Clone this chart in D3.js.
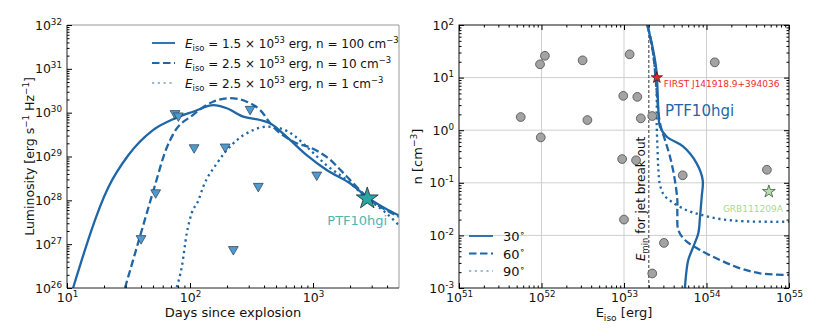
<!DOCTYPE html>
<html>
<head>
<meta charset="utf-8">
<script src="https://cdn.jsdelivr.net/npm/d3@7"></script>
<style>
  body { margin: 0; background: #fff; }
  text { font-family: "DejaVu Sans", sans-serif; }
</style>
</head>
<body>
<svg id="chart" width="831" height="330"></svg>
<script>
// ---- left panel: light curves ----
const daysSolid = [11.2, 21.7, 31.5, 50, 75.5, 106, 155, 199, 271, 371, 447, 611, 889, 1291, 2000, 2735, 3845, 5000];
const lumSolid = [1e26, 2.0e28, 1.07e29, 4.0e29, 7.4e29, 1.05e30, 1.48e30, 1.26e30, 8.1e29, 6.8e29, 5.75e29, 2.8e29, 1.07e29, 4.9e28, 2.45e28, 1.2e28, 6.6e27, 4.5e27];

const daysDashed = [29.6, 39.2, 51.9, 62.7, 72.8, 106, 154, 211, 289, 371, 473, 688, 1000, 1290, 1880, 2735, 5000];
const lumDashed = [1e26, 1.5e27, 2.2e28, 1.26e29, 3.2e29, 8.9e29, 1.78e30, 2.14e30, 1.78e30, 1.15e30, 4.8e29, 2.2e29, 1.5e29, 9.8e28, 3.5e28, 1.2e28, 4.2e27];

const daysDotted = [78, 85.7, 94, 103, 117, 128, 165, 225, 327, 420, 540, 692, 889, 1291, 1880, 2735, 3845, 5000];
const lumDotted = [1.05e26, 3.0e26, 1.74e27, 5.0e27, 1e28, 2.04e28, 6.9e28, 2.0e29, 4.0e29, 4.8e29, 4.4e29, 3.1e29, 1.66e29, 6.3e28, 2.9e28, 1.12e28, 5.4e27, 2.7e27];

const limitDays = [75.5, 80.4, 40, 52.6, 108, 193, 308, 359, 225, 1072];
const limitLum = [9.6e29, 8.5e29, 1.35e27, 1.5e28, 1.6e29, 1.66e29, 1.2e30, 2.1e28, 7.6e26, 3.8e28];

const ptfDays = 2760, ptfLum = 1.1e28;

const lumTicks = [1e26, 1e27, 1e28, 1e29, 1e30, 1e31, 1e32];
const dayTicks = [10, 100, 1000];

// ---- right panel: E_iso vs n ----
const grbE = [1.1e52, 9.6e51, 3.15e52, 1.17e53, 1.26e54, 9.8e52, 1.45e53, 5.6e51, 3.6e52, 1.6e53, 2.2e53, 9.8e51, 9.5e52, 1.4e53, 5.4e54, 5.15e53, 1e53, 3.05e53, 2.2e53];
const grbN = [26, 17.9, 21.3, 27.7, 19.5, 4.5, 4.3, 1.78, 1.56, 1.68, 1.86, 0.73, 0.283, 0.268, 0.177, 0.139, 0.02, 0.0072, 0.00189];

const e30 = [1.91e53, 2.17e53, 2.44e53, 2.54e53, 2.61e53, 2.73e53, 3.30e53, 5.24e53, 7.60e53, 8.99e53, 8.75e53, 8.34e53, 7.96e53, 6.92e53, 6.01e53, 5.65e53, 5.48e53];
const n30 = [100, 44.9, 16.1, 6.71, 2.42, 1.17, 0.75, 0.485, 0.234, 0.113, 0.0545, 0.0226, 0.011, 0.0061, 0.0034, 0.00177, 0.001];

const e60 = [1.93e53, 2.25e53, 2.48e53, 2.73e53, 3.14e53, 3.61e53, 4.07e53, 4.43e53, 4.43e53, 4.55e53, 5.48e53, 8.34e53, 1.46e54, 2.55e54, 4.45e54, 1e55];
const n60 = [100, 29.4, 5.81, 1.35, 0.652, 0.313, 0.131, 0.0471, 0.0263, 0.0127, 0.00818, 0.00527, 0.0034, 0.00237, 0.0019, 0.00177];

const e90 = [1.93e53, 2.25e53, 2.48e53, 2.49e53, 2.55e53, 2.61e53, 2.73e53, 3.05e53, 3.82e53, 5.65e53, 8.34e53, 1.46e54, 2.93e54, 1e55];
const n90 = [100, 29.4, 5.81, 1.35, 0.421, 0.175, 0.0908, 0.0586, 0.0432, 0.0304, 0.0249, 0.0205, 0.0185, 0.0182];

const firstE = 2.5e53, firstN = 10;
const grb111209E = 5.7e54, grb111209N = 0.068;
const eMinJet = 2e53;

const eTicks = [1e51, 1e52, 1e53, 1e54, 1e55];
const nTicks = [1e-3, 1e-2, 1e-1, 1, 10, 100];

const blue = "#1f66a6";
const svg = d3.select("#chart");

function addRich(text, parts, size) {
  let shift = 0;
  parts.forEach(([t, s]) => {
    const ts = text.append("tspan").text(t);
    const target = s === "sup" ? -0.4 * size : s === "sub" ? 0.28 * size : 0;
    if (target !== shift) { ts.attr("dy", target - shift); shift = target; }
    if (s === "sup" || s === "sub") ts.attr("font-size", size * 0.7);
    if (s === "i") ts.attr("font-style", "italic");
  });
}

function minorTicks(domain) {
  const out = [];
  const lo = Math.floor(Math.log10(domain[0])), hi = Math.ceil(Math.log10(domain[1]));
  for (let d = lo; d < hi; d++) {
    for (let k = 2; k <= 9; k++) {
      const v = k * Math.pow(10, d);
      if (v > domain[0] && v < domain[1]) out.push(v);
    }
  }
  return out;
}

function powLabels(g, size) {
  g.selectAll(".tick text").each(function (d) {
    const t = d3.select(this);
    t.text("");
    addRich(t, [["10", ""], [String(Math.round(Math.log10(d))), "sup"]], size);
  });
}

function drawAxis(g, axisFn, scale, ticks, labels) {
  const major = axisFn(scale).tickValues(ticks).tickSize(-5).tickSizeOuter(0).tickPadding(5);
  if (!labels) major.tickFormat("");
  const gm = g.append("g").call(major);
  gm.selectAll("text").attr("font-size", 12.5).attr("fill", "#111").style("font-family", "DejaVu Sans");
  gm.select(".domain").remove();
  if (labels) powLabels(gm, 12.5);
  g.append("g")
    .call(axisFn(scale).tickValues(minorTicks(scale.domain())).tickSize(-2.5).tickSizeOuter(0).tickFormat(""))
    .select(".domain").remove();
  return gm;
}

// ================= LEFT PANEL =================
const L = { left: 67, right: 399, top: 25, bottom: 288 };
const xL = d3.scaleLog().domain([10, 5000]).range([L.left, L.right]);
const yL = d3.scaleLog().domain([1e26, 1e32]).range([L.bottom, L.top]);

svg.append("clipPath").attr("id", "clipL")
  .append("rect").attr("x", L.left).attr("y", L.top).attr("width", L.right - L.left).attr("height", L.bottom - L.top);

const left = svg.append("g");

const lineL = d3.line().x(d => xL(d[0])).y(d => yL(d[1])).curve(d3.curveMonotoneX);
const curvesL = [
  { days: daysSolid, lum: lumSolid, dash: null },
  { days: daysDashed, lum: lumDashed, dash: "7.5,3.5" },
  { days: daysDotted, lum: lumDotted, dash: "2.2,3.6" }
];
const curveG = left.append("g").attr("clip-path", "url(#clipL)");
curvesL.forEach(c => {
  curveG.append("path")
    .datum(d3.zip(c.days, c.lum))
    .attr("d", lineL)
    .attr("fill", "none")
    .attr("stroke", blue)
    .attr("stroke-width", 2.3)
    .attr("stroke-dasharray", c.dash);
});

const tri = d3.symbol().type(d3.symbolTriangle).size(42);
left.append("g").selectAll("path")
  .data(d3.zip(limitDays, limitLum))
  .join("path")
  .attr("d", tri)
  .attr("transform", d => `translate(${xL(d[0])},${yL(d[1])}) rotate(180)`)
  .attr("fill", "#4d9bd0")
  .attr("stroke", "#2b3a4a")
  .attr("stroke-width", 0.7);

left.append("path")
  .attr("d", d3.symbol().type(d3.symbolStar).size(150)())
  .attr("transform", `translate(${xL(ptfDays)},${yL(ptfLum)})`)
  .attr("fill", "#2aa5a2")
  .attr("stroke", "#1a2a2a")
  .attr("stroke-width", 0.8);

left.append("text")
  .attr("x", xL(ptfDays) - 10).attr("y", yL(ptfLum) + 26)
  .attr("text-anchor", "middle").attr("font-size", 13)
  .attr("fill", "#4db6b2")
  .text("PTF10hgi");

// frame
left.append("line").attr("x1", L.left).attr("x2", L.right).attr("y1", L.top).attr("y2", L.top).attr("stroke", "#999");
left.append("line").attr("x1", L.right).attr("x2", L.right).attr("y1", L.top).attr("y2", L.bottom).attr("stroke", "#999");
left.append("line").attr("x1", L.left).attr("x2", L.left).attr("y1", L.top).attr("y2", L.bottom).attr("stroke", "#222");
left.append("line").attr("x1", L.left).attr("x2", L.right).attr("y1", L.bottom).attr("y2", L.bottom).attr("stroke", "#222");

const axLy = left.append("g").attr("transform", `translate(${L.left},0)`);
drawAxis(axLy, d3.axisLeft, yL, lumTicks, true);
const axLx = left.append("g").attr("transform", `translate(0,${L.bottom})`);
drawAxis(axLx, d3.axisBottom, xL, dayTicks, true);

left.append("text")
  .attr("x", (L.left + L.right) / 2).attr("y", 317)
  .attr("text-anchor", "middle").attr("font-size", 13).attr("fill", "#111")
  .text("Days since explosion");

const ylab = left.append("text")
  .attr("transform", `translate(34,${(L.top + L.bottom) / 2}) rotate(-90)`)
  .attr("text-anchor", "middle").attr("font-size", 12.5).attr("fill", "#111");
addRich(ylab, [["Luminosity [erg s", ""], ["\u22121", "sup"], [" Hz", ""], ["\u22121", "sup"], ["]", ""]], 12.5);

// legend
const legL = [
  { dash: null, parts: [["E", "i"], ["iso", "sub"], [" = 1.5 \u00d7 10", ""], ["53", "sup"], [" erg, n = 100 cm", ""], ["\u22123", "sup"]] },
  { dash: "7.5,3.5", parts: [["E", "i"], ["iso", "sub"], [" = 2.5 \u00d7 10", ""], ["53", "sup"], [" erg, n = 10 cm", ""], ["\u22123", "sup"]] },
  { dash: "2.2,3.6", parts: [["E", "i"], ["iso", "sub"], [" = 2.5 \u00d7 10", ""], ["53", "sup"], [" erg, n = 1 cm", ""], ["\u22123", "sup"]] }
];
legL.forEach((l, i) => {
  const y = 43 + i * 20;
  left.append("line").attr("x1", 152).attr("x2", 175).attr("y1", y).attr("y2", y)
    .attr("stroke", blue).attr("stroke-width", i === 2 ? 1.6 : 1.8).attr("stroke-dasharray", l.dash)
    .attr("opacity", i === 2 ? 0.6 : 1);
  const t = left.append("text").attr("x", 185).attr("y", y + 5).attr("font-size", 12).attr("fill", "#111");
  addRich(t, l.parts, 12);
});

// ================= RIGHT PANEL =================
const R = { left: 459, right: 789, top: 25, bottom: 288 };
const xR = d3.scaleLog().domain([1e51, 1e55]).range([R.left, R.right]);
const yR = d3.scaleLog().domain([1e-3, 1e2]).range([R.bottom, R.top]);

svg.append("clipPath").attr("id", "clipR")
  .append("rect").attr("x", R.left).attr("y", R.top).attr("width", R.right - R.left).attr("height", R.bottom - R.top);

const right = svg.append("g");

// grid
right.append("g").selectAll("line").data(eTicks.slice(1, -1)).join("line")
  .attr("x1", d => xR(d)).attr("x2", d => xR(d)).attr("y1", R.top).attr("y2", R.bottom)
  .attr("stroke", "#cfcfcf").attr("stroke-width", 1);
right.append("g").selectAll("line").data(nTicks.slice(1, -1)).join("line")
  .attr("y1", d => yR(d)).attr("y2", d => yR(d)).attr("x1", R.left).attr("x2", R.right)
  .attr("stroke", "#cfcfcf").attr("stroke-width", 1);

// E_min line
right.append("line")
  .attr("x1", xR(eMinJet)).attr("x2", xR(eMinJet)).attr("y1", R.top).attr("y2", R.bottom)
  .attr("stroke", "#333").attr("stroke-width", 1).attr("stroke-dasharray", "3,2");
const emin = right.append("text")
  .attr("transform", `translate(${xR(eMinJet) - 4},261) rotate(-90)`)
  .attr("font-size", 12).attr("fill", "#111");
addRich(emin, [["E", "i"], ["min", "sub"], [" for jet break out", ""]], 12);

const lineR = d3.line().x(d => xR(d[0])).y(d => yR(d[1])).curve(d3.curveCatmullRom.alpha(0.5));
const curvesR = [
  { e: e90, n: n90, dash: "2.2,3.6" },
  { e: e60, n: n60, dash: "7.5,3.5" },
  { e: e30, n: n30, dash: null }
];
const curveR = right.append("g").attr("clip-path", "url(#clipR)");
curvesR.forEach(c => {
  curveR.append("path")
    .datum(d3.zip(c.e, c.n))
    .attr("d", lineR)
    .attr("fill", "none")
    .attr("stroke", blue)
    .attr("stroke-width", 2.3)
    .attr("stroke-dasharray", c.dash);
});

right.append("g").selectAll("circle")
  .data(d3.zip(grbE, grbN))
  .join("circle")
  .attr("cx", d => xR(d[0])).attr("cy", d => yR(d[1])).attr("r", 4.4)
  .attr("fill", "#a3a3a3").attr("stroke", "#4a4a4a").attr("stroke-width", 0.8);

right.append("path")
  .attr("d", d3.symbol().type(d3.symbolStar).size(40)())
  .attr("transform", `translate(${xR(firstE)},${yR(firstN)})`)
  .attr("fill", "#e02a2a").attr("stroke", "#3a1010").attr("stroke-width", 0.7);
right.append("text")
  .attr("x", xR(firstE) + 7).attr("y", yR(firstN) + 9)
  .attr("font-size", 9).attr("fill", "#f22b2b")
  .text("FIRST J141918.9+394036");

right.append("path")
  .attr("d", d3.symbol().type(d3.symbolStar).size(50)())
  .attr("transform", `translate(${xR(grb111209E)},${yR(grb111209N)})`)
  .attr("fill", "#b4e0a9").attr("stroke", "#2f3f2f").attr("stroke-width", 0.7);
right.append("text")
  .attr("x", xR(grb111209E) - 16).attr("y", yR(grb111209N) + 20)
  .attr("text-anchor", "middle").attr("font-size", 9).attr("fill", "#a6d899")
  .text("GRB111209A");

right.append("text")
  .attr("x", 665).attr("y", 116)
  .attr("font-size", 15).attr("fill", blue)
  .text("PTF10hgi");

// frame + ticks on all sides
right.append("rect").attr("x", R.left).attr("y", R.top).attr("width", R.right - R.left).attr("height", R.bottom - R.top)
  .attr("fill", "none").attr("stroke", "#111").attr("stroke-width", 1);
drawAxis(right.append("g").attr("transform", `translate(${R.left},0)`), d3.axisLeft, yR, nTicks, true);
drawAxis(right.append("g").attr("transform", `translate(${R.right},0)`), d3.axisRight, yR, nTicks, false);
drawAxis(right.append("g").attr("transform", `translate(0,${R.bottom})`), d3.axisBottom, xR, eTicks, true);
drawAxis(right.append("g").attr("transform", `translate(0,${R.top})`), d3.axisTop, xR, eTicks, false);

const xlabR = right.append("text")
  .attr("x", (R.left + R.right) / 2).attr("y", 317)
  .attr("text-anchor", "middle").attr("font-size", 13).attr("fill", "#111");
addRich(xlabR, [["E", ""], ["iso", "sub"], [" [erg]", ""]], 13);

const ylabR = right.append("text")
  .attr("transform", `translate(422,${(R.top + R.bottom) / 2}) rotate(-90)`)
  .attr("text-anchor", "middle").attr("font-size", 13).attr("fill", "#111");
addRich(ylabR, [["n [cm", ""], ["\u22123", "sup"], ["]", ""]], 13);

// legend
const legR = [["30", null], ["60", "7.5,3.5"], ["90", "2.2,3.6"]];
legR.forEach(([deg, dash], i) => {
  const y = 236 + i * 17.5;
  right.append("line").attr("x1", 469).attr("x2", 493).attr("y1", y).attr("y2", y)
    .attr("stroke", blue).attr("stroke-width", i === 2 ? 1.6 : 1.8).attr("stroke-dasharray", dash)
    .attr("opacity", i === 2 ? 0.6 : 1);
  const t = right.append("text").attr("x", 503).attr("y", y + 5).attr("font-size", 13).attr("fill", "#111");
  addRich(t, [[deg, ""], ["\u2218", "sup"]], 13);
});
</script>
</body>
</html>
